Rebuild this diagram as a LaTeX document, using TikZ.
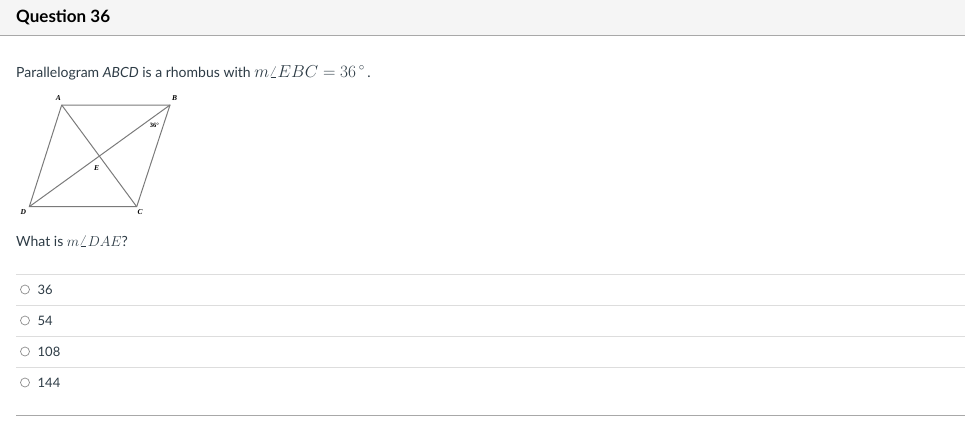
\documentclass[tikz,border=0pt]{standalone}
\usepackage{fontspec}
\setmainfont{Lato}
\newfontfamily\figfont{Liberation Serif}
\definecolor{headbg}{HTML}{F5F5F5}
\definecolor{headrule}{HTML}{A8A8A8}
\definecolor{sepgray}{HTML}{DDDDDD}
\definecolor{edgegray}{HTML}{7A7A7A}
\definecolor{textdark}{HTML}{2D3B45}
\newcommand{\bigmath}[2][15]{{\fontsize{#1}{16}\selectfont$#2$}}
\begin{document}
\begin{tikzpicture}[x=1pt, y=-1pt,
    bodytext/.style={anchor=base west, inner sep=0pt, text=textdark, font=\fontsize{14}{16}\selectfont},
    vertexlabel/.style={inner sep=0pt, font=\figfont\fontsize{7.5}{8}\selectfont\bfseries\itshape},
    edge/.style={edgegray, line width=1pt},
    separator/.style={sepgray, line width=0.8pt},
    radiobtn/.style={circle, draw=gray!90, line width=0.7pt, minimum size=9pt, inner sep=0pt}]
    \useasboundingbox (0,0) rectangle (965,421);

    % Header band
    \fill[headbg] (0,0) rectangle (965,35);
    \draw[headrule, line width=1pt] (0,35) -- (965,35);
    \node[bodytext, font=\fontsize{17}{20}\selectfont\bfseries, text=black] (title) at (16,22.5) {Question 36};

    % Question text
    \node[bodytext] (stem) at (16,77) {Parallelogram \textit{ABCD} is a rhombus with \bigmath[16]{m\angle EBC=36\,^{\circ}}\,.};

    % Rhombus
    \coordinate (A) at (61.7,105);
    \coordinate (B) at (170,105);
    \coordinate (C) at (136.7,206.7);
    \coordinate (D) at (29.3,206.7);
    \draw[edge, line join=miter] (A) -- (B) -- (C) -- (D) -- cycle;
    \draw[edge] (A) -- (C);
    \draw[edge] (B) -- (D);
    \node[vertexlabel] (labA) at (58.3,98.5) {A};
    \node[vertexlabel] (labB) at (174.5,98.5) {B};
    \node[vertexlabel] (labC) at (140,212.5) {C};
    \node[vertexlabel] (labD) at (23.3,212) {D};
    \node[vertexlabel] (labE) at (96.7,168) {E};
    \node[vertexlabel, font=\figfont\fontsize{6.5}{7}\selectfont\bfseries] (ang) at (154.5,125.5) {36°};

    % Prompt
    \node[bodytext] (prompt) at (16,246) {What is \bigmath{m\angle DAE}?};

    % Answer choices
    \foreach \val [count=\i] in {36,54,108,144} {
        \draw[separator] (16,{274.3+31*(\i-1)}) -- (965,{274.3+31*(\i-1)});
        \node[radiobtn] (radio\i) at (25,{289.5+31*(\i-1)}) {};
        \node[bodytext, font=\fontsize{13}{15}\selectfont] (opt\i) at (37.5,{294+31*(\i-1)}) {\val};
    }
    \draw[headrule, line width=1pt] (16,415) -- (965,415);
\end{tikzpicture}
\end{document}
